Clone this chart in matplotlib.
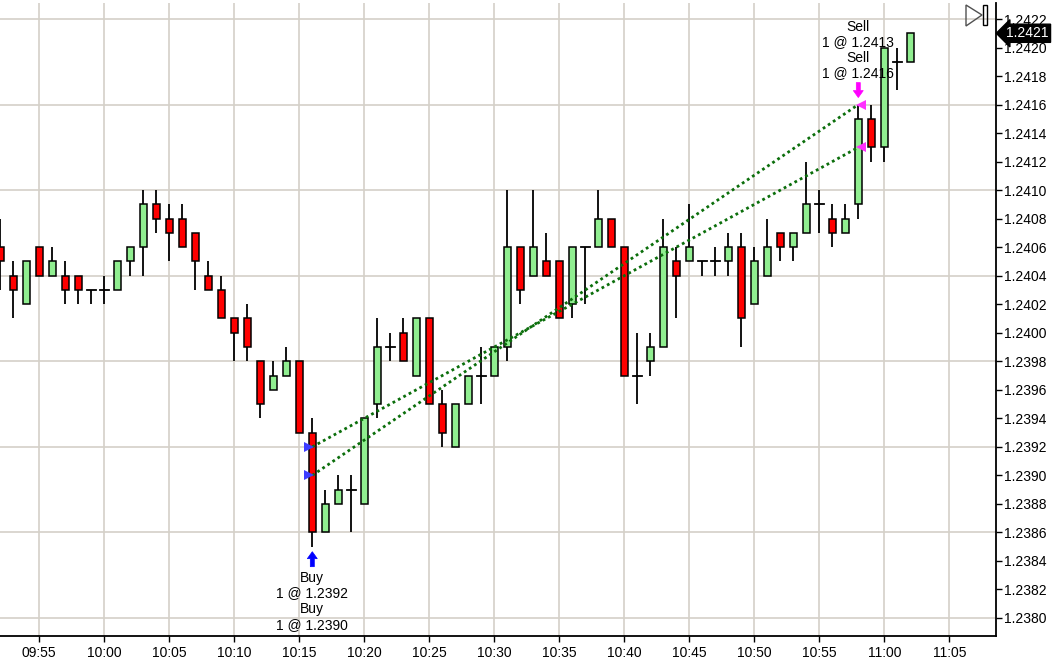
import numpy as np
import matplotlib
matplotlib.use("Agg")
import matplotlib.pyplot as plt
from matplotlib.patches import Rectangle, Polygon
from matplotlib.transforms import blended_transform_factory, IdentityTransform

plt.rcParams['font.family'] = ['Liberation Sans', 'DejaVu Sans']

# minutes from 10:00, one bar per minute (09:52 .. 11:02)
minutes = np.arange(-8, 63)

opens = [1.2406, 1.2404, 1.2402, 1.2406, 1.2404, 1.2404, 1.2404, 1.2403, 1.2403, 1.2403,
         1.2405, 1.2406, 1.2409, 1.2408, 1.2408, 1.2407, 1.2404, 1.2403, 1.2401, 1.2401,
         1.2398, 1.2396, 1.2397, 1.2398, 1.2393, 1.2386, 1.2388, 1.2389, 1.2388, 1.2395,
         1.2399, 1.2400, 1.2397, 1.2401, 1.2395, 1.2392, 1.2395, 1.2397, 1.2397, 1.2399,
         1.2406, 1.2404, 1.2405, 1.2405, 1.2402, 1.2406, 1.2406, 1.2408, 1.2406, 1.2397,
         1.2398, 1.2399, 1.2405, 1.2405, 1.2405, 1.2405, 1.2405, 1.2406, 1.2402, 1.2404,
         1.2407, 1.2406, 1.2407, 1.2409, 1.2408, 1.2407, 1.2409, 1.2415, 1.2413, 1.2419,
         1.2419]
highs = [1.2408, 1.2405, 1.2405, 1.2406, 1.2406, 1.2405, 1.2404, 1.2403, 1.2404, 1.2405,
         1.2406, 1.2410, 1.2410, 1.2409, 1.2409, 1.2407, 1.2405, 1.2404, 1.2401, 1.2402,
         1.2398, 1.2398, 1.2399, 1.2398, 1.2394, 1.2389, 1.2390, 1.2390, 1.2394, 1.2401,
         1.2400, 1.2401, 1.2401, 1.2401, 1.2396, 1.2395, 1.2397, 1.2399, 1.2399, 1.2410,
         1.2406, 1.2410, 1.2407, 1.2405, 1.2406, 1.2406, 1.2410, 1.2408, 1.2406, 1.2400,
         1.2400, 1.2408, 1.2406, 1.2409, 1.2405, 1.2406, 1.2407, 1.2407, 1.2406, 1.2408,
         1.2407, 1.2407, 1.2412, 1.2410, 1.2409, 1.2409, 1.2416, 1.2416, 1.2420, 1.2420,
         1.2421]
lows = [1.2403, 1.2401, 1.2402, 1.2404, 1.2404, 1.2402, 1.2402, 1.2402, 1.2402, 1.2403,
        1.2404, 1.2404, 1.2407, 1.2405, 1.2406, 1.2403, 1.2403, 1.2401, 1.2398, 1.2398,
        1.2394, 1.2396, 1.2397, 1.2393, 1.2385, 1.2386, 1.2388, 1.2386, 1.2388, 1.2394,
        1.2398, 1.2398, 1.2397, 1.2395, 1.2392, 1.2392, 1.2395, 1.2395, 1.2397, 1.2398,
        1.2402, 1.2404, 1.2404, 1.2401, 1.2401, 1.2402, 1.2406, 1.2406, 1.2397, 1.2395,
        1.2397, 1.2399, 1.2401, 1.2405, 1.2404, 1.2404, 1.2404, 1.2399, 1.2402, 1.2404,
        1.2405, 1.2405, 1.2407, 1.2407, 1.2406, 1.2407, 1.2408, 1.2412, 1.2412, 1.2417,
        1.2419]
closes = [1.2405, 1.2403, 1.2405, 1.2404, 1.2405, 1.2403, 1.2403, 1.2403, 1.2403, 1.2405,
          1.2406, 1.2409, 1.2408, 1.2407, 1.2406, 1.2405, 1.2403, 1.2401, 1.2400, 1.2399,
          1.2395, 1.2397, 1.2398, 1.2393, 1.2386, 1.2388, 1.2389, 1.2389, 1.2394, 1.2399,
          1.2399, 1.2398, 1.2401, 1.2395, 1.2393, 1.2395, 1.2397, 1.2397, 1.2399, 1.2406,
          1.2403, 1.2406, 1.2404, 1.2401, 1.2406, 1.2406, 1.2408, 1.2406, 1.2397, 1.2397,
          1.2399, 1.2406, 1.2404, 1.2406, 1.2405, 1.2405, 1.2406, 1.2401, 1.2405, 1.2406,
          1.2406, 1.2407, 1.2409, 1.2409, 1.2407, 1.2408, 1.2415, 1.2413, 1.2420, 1.2419,
          1.2421]

# trades
buy_minute = 16
buy_prices = [1.2392, 1.2390]
sell_minute = 58
sell_prices = [1.2413, 1.2416]

tick_minutes = np.arange(-5, 66, 5)
tick_labels = ["09:55", "10:00", "10:05", "10:10", "10:15", "10:20", "10:25", "10:30",
               "10:35", "10:40", "10:45", "10:50", "10:55", "11:00", "11:05"]
last_price = 1.2421

fig = plt.figure(figsize=(10.54, 6.67), dpi=100)
ax = fig.add_axes([0.0, 31 / 667, 996 / 1054, 633 / 667])

grid_c = "#D4D0C8"
for t in tick_minutes:
    ax.axvline(t, color=grid_c, lw=1.2, zorder=0)
for g in np.arange(1.2380, 1.24225, 0.0006):
    ax.axhline(g, color=grid_c, lw=1.2, zorder=0)

w = 0.58
for t, o, h, l, c in zip(minutes, opens, highs, lows, closes):
    ax.plot([t, t], [l, h], color="black", lw=1.3, zorder=2, solid_capstyle="butt")
    if abs(c - o) < 1e-7:
        ax.plot([t - w / 2 - 0.05, t + w / 2 + 0.05], [o, o], color="black", lw=1.3, zorder=3)
    else:
        col = "#90EE90" if c > o else "#FF0000"
        ax.add_patch(Rectangle((t - w / 2, min(o, c)), w, abs(c - o),
                               facecolor=col, edgecolor="black", lw=1.1, zorder=3))

# trade lines (first buy -> first sell, second buy -> second sell)
for bp, sp in zip(buy_prices, sell_prices):
    ax.plot([buy_minute, sell_minute], [bp, sp], color="#0B6E0B", lw=2.0,
            ls=(0, (1, 1.2)), zorder=4)
    ax.plot(buy_minute - 0.22, bp, marker=">", color="#3C3CFF", ms=7.5, mew=0, zorder=5)
    ax.plot(sell_minute + 0.22, sp, marker="<", color="#FF30FF", ms=7.5, mew=0, zorder=5)

ax.set_xlim(-104.3 / 13, (996 - 104.3) / 13)
ax.set_ylim(1.2380 - 18 / 14.26 * 0.0001, 1.2422 + 16 / 14.26 * 0.0001)

buy_low = lows[list(minutes).index(buy_minute)]
sell_high = highs[list(minutes).index(sell_minute)]


def block_arrow(x, y, gap, direction, color):
    # arrow drawn in pixels: tip 'gap' px away from (x, y), pointing toward it
    px, py = ax.transData.transform((x, y))
    d = 1 if direction == "up" else -1
    shape = np.array([[0, 0], [5, -7], [2, -7], [2, -15], [-2, -15], [-2, -7], [-5, -7]], float)
    shape[:, 1] *= d
    shape[:, 1] -= d * gap
    shape += [px, py]
    fig.add_artist(Polygon(shape, closed=True, fc=color, ec=color, lw=0.5,
                           transform=IdentityTransform()))


block_arrow(buy_minute, buy_low, 5, "up", "#0000FF")
block_arrow(sell_minute, sell_high, 7, "down", "#FF00FF")

buy_lines = []
for bp in buy_prices:
    buy_lines += ["Buy", "1 @ %.4f" % bp]
for i, s in enumerate(buy_lines):
    ax.annotate(s, xy=(buy_minute, buy_low), xytext=(0, -31 - 15.7 * i),
                textcoords="offset pixels", ha="center", va="center", fontsize=10)

sell_lines = []
for sp in sell_prices:
    sell_lines += ["Sell", "1 @ %.4f" % sp]
for i, s in enumerate(sell_lines):
    ax.annotate(s, xy=(sell_minute, sell_high), xytext=(0, 78 - 15.5 * i),
                textcoords="offset pixels", ha="center", va="center", fontsize=10)

ax.set_xticks(tick_minutes)
ax.set_xticklabels(tick_labels)
ax.set_yticks(np.arange(1.2380, 1.24225, 0.0002))
ax.yaxis.set_major_formatter(plt.FuncFormatter(lambda v, p: "%.4f" % v))
ax.yaxis.tick_right()
ax.tick_params(axis="both", direction="out", length=4, width=1, labelsize=10, colors="black")
ax.tick_params(axis="y", pad=2)
ax.tick_params(axis="x", pad=3)
for s in ["left", "top"]:
    ax.spines[s].set_visible(False)
ax.spines["right"].set_linewidth(1.3)
ax.spines["bottom"].set_linewidth(1.3)

# last price tag
tr = blended_transform_factory(ax.transAxes, ax.transData)
ax.text(1.010, last_price, "1.2421", transform=tr, ha="left", va="center", fontsize=10,
        color="white", clip_on=False, zorder=10,
        bbox=dict(boxstyle="larrow,pad=0.15", fc="black", ec="black"))

# end-of-chart icon
fig.add_artist(Polygon([[966 / 1054, 1 - 5 / 667], [982 / 1054, 1 - 15 / 667],
                        [966 / 1054, 1 - 26 / 667]], closed=True, fill=False,
                       ec="#505050", lw=1.0, transform=fig.transFigure))
fig.add_artist(Rectangle((983 / 1054, 1 - 25 / 667), 4 / 1054, 20 / 667, fill=False,
                         ec="black", lw=1.0, transform=fig.transFigure))

fig.savefig("out.png", dpi=100)
